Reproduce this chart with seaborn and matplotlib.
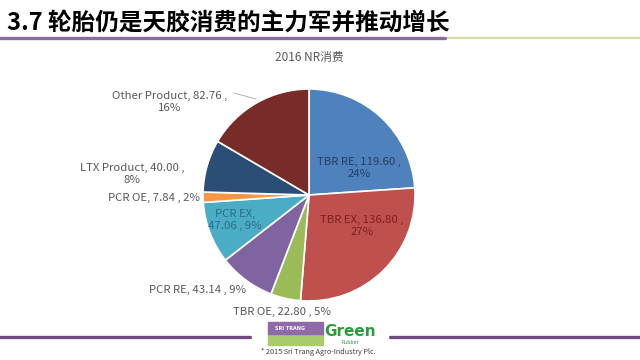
import matplotlib
matplotlib.use("Agg")
import matplotlib.pyplot as plt
import seaborn as sns
from matplotlib.patches import Rectangle

# data (2016 NR consumption)
segments = ["TBR RE", "TBR EX", "TBR OE", "PCR RE", "PCR EX", "PCR OE", "LTX Product", "Other Product"]
volumes = [119.60, 136.80, 22.80, 43.14, 47.06, 7.84, 40.00, 82.76]
percents = ["24%", "27%", "5%", "9%", "9%", "2%", "8%", "16%"]

title = "3.7 轮胎仍是天胶消费的主力军并推动增长"
subtitle = "2016 NR消费"

sns.set_theme(style="white")
plt.rcParams["font.family"] = ["Noto Sans CJK SC", "DejaVu Sans"]

# excel 2010 palette
colors = ["#4F81BD", "#C0504D", "#9BBB59", "#8064A2", "#4BACC6", "#F79646", "#2C4D75", "#772C2A"]

W, H = 640, 360
cx, cy, R = 309, 195, 106  # pie centre / radius in pixels

fig = plt.figure(figsize=(6.4, 3.6), dpi=100)
fig.patch.set_facecolor("white")
ax = fig.add_axes([0, 0, 1, 1])

wedges, _ = ax.pie(volumes, colors=colors, startangle=90, counterclock=False,
                   radius=1, wedgeprops=dict(edgecolor="white", linewidth=1.2))
# pie() resets the limits, so set them afterwards
ax.set_xlim(-cx / R, (W - cx) / R)
ax.set_ylim(-(H - cy) / R, cy / R)
ax.set_aspect("equal")
ax.axis("off")


def px(x, y):
    # pixel position -> data coords
    return (x - cx) / R, (cy - y) / R


gray = "#595959"
lab = [f"{s}, {v:.2f} ," for s, v in zip(segments, volumes)]
fs = 8.2
ax.text(*px(359, 168), lab[0] + "\n" + percents[0], ha="center", va="center",
        fontsize=fs, color="#20406A", linespacing=1.25)
ax.text(*px(362, 226), lab[1] + "\n" + percents[1], ha="center", va="center",
        fontsize=fs, color="#7B2220", linespacing=1.25)
ax.text(*px(282, 312), lab[2] + " " + percents[2], ha="center", va="center",
        fontsize=fs, color=gray)
ax.text(*px(246, 290), lab[3] + " " + percents[3], ha="right", va="center",
        fontsize=fs, color=gray)
ax.text(*px(235, 220), "PCR EX,\n47.06 , " + percents[4], ha="center", va="center",
        fontsize=fs, color="#2A6F84", linespacing=1.25)
ax.text(*px(200, 198), lab[5] + " " + percents[5], ha="right", va="center",
        fontsize=fs, color=gray)
ax.text(*px(132, 174), lab[6] + "\n" + percents[6], ha="center", va="center",
        fontsize=fs, color=gray, linespacing=1.25)
ax.text(*px(170, 102), lab[7] + "\n" + percents[7], ha="center", va="center",
        fontsize=fs, color=gray, linespacing=1.25)
ax.plot(*zip(px(234, 93), px(256, 99)), color="#A6A6A6", lw=0.6)

# header
fig.text(7 / W, 1 - 23 / H, title, fontsize=17, fontweight="bold", color="black",
         ha="left", va="center")
fig.add_artist(plt.Line2D([0, 445 / W], [1 - 38 / H] * 2, color="#8B6A9E", lw=2.4))
fig.add_artist(plt.Line2D([448 / W, 1], [1 - 38 / H] * 2, color="#D2DFA6", lw=1.6))
fig.text(cx / W, 1 - 58 / H, subtitle, fontsize=8.5, color=gray, ha="center", va="center")

# footer
fig.add_artist(plt.Line2D([0, 250 / W], [1 - 337 / H] * 2, color="#6E4B80", lw=2.4))
fig.add_artist(plt.Line2D([390 / W, 1], [1 - 337 / H] * 2, color="#6E4B80", lw=2.4))
fig.add_artist(Rectangle((268 / W, 1 - 345 / H), 55 / W, 11 / H, transform=fig.transFigure,
                         color="#A9CC6A"))
fig.add_artist(Rectangle((268 / W, 1 - 334 / H), 55 / W, 12 / H, transform=fig.transFigure,
                         color="#8E6AA8"))
fig.text(290 / W, 1 - 328 / H, "SRI TRANG", fontsize=3.5, color="white", ha="center",
         va="center", fontweight="bold", family="DejaVu Sans")
fig.text(350 / W, 1 - 332 / H, "Green", fontsize=11, color="#2E9A3C", ha="center",
         va="center", fontweight="bold", family="DejaVu Sans")
fig.text(350 / W, 1 - 342 / H, "Rubber", fontsize=3.5, color="#2E9A3C", ha="center",
         va="center", family="DejaVu Sans")
fig.text(318 / W, 1 - 352 / H, "* 2015 Sri Trang Agro-Industry Plc.", fontsize=5.2,
         color="#404040", ha="center", va="center")

fig.savefig("out.png", dpi=100, facecolor="white")
